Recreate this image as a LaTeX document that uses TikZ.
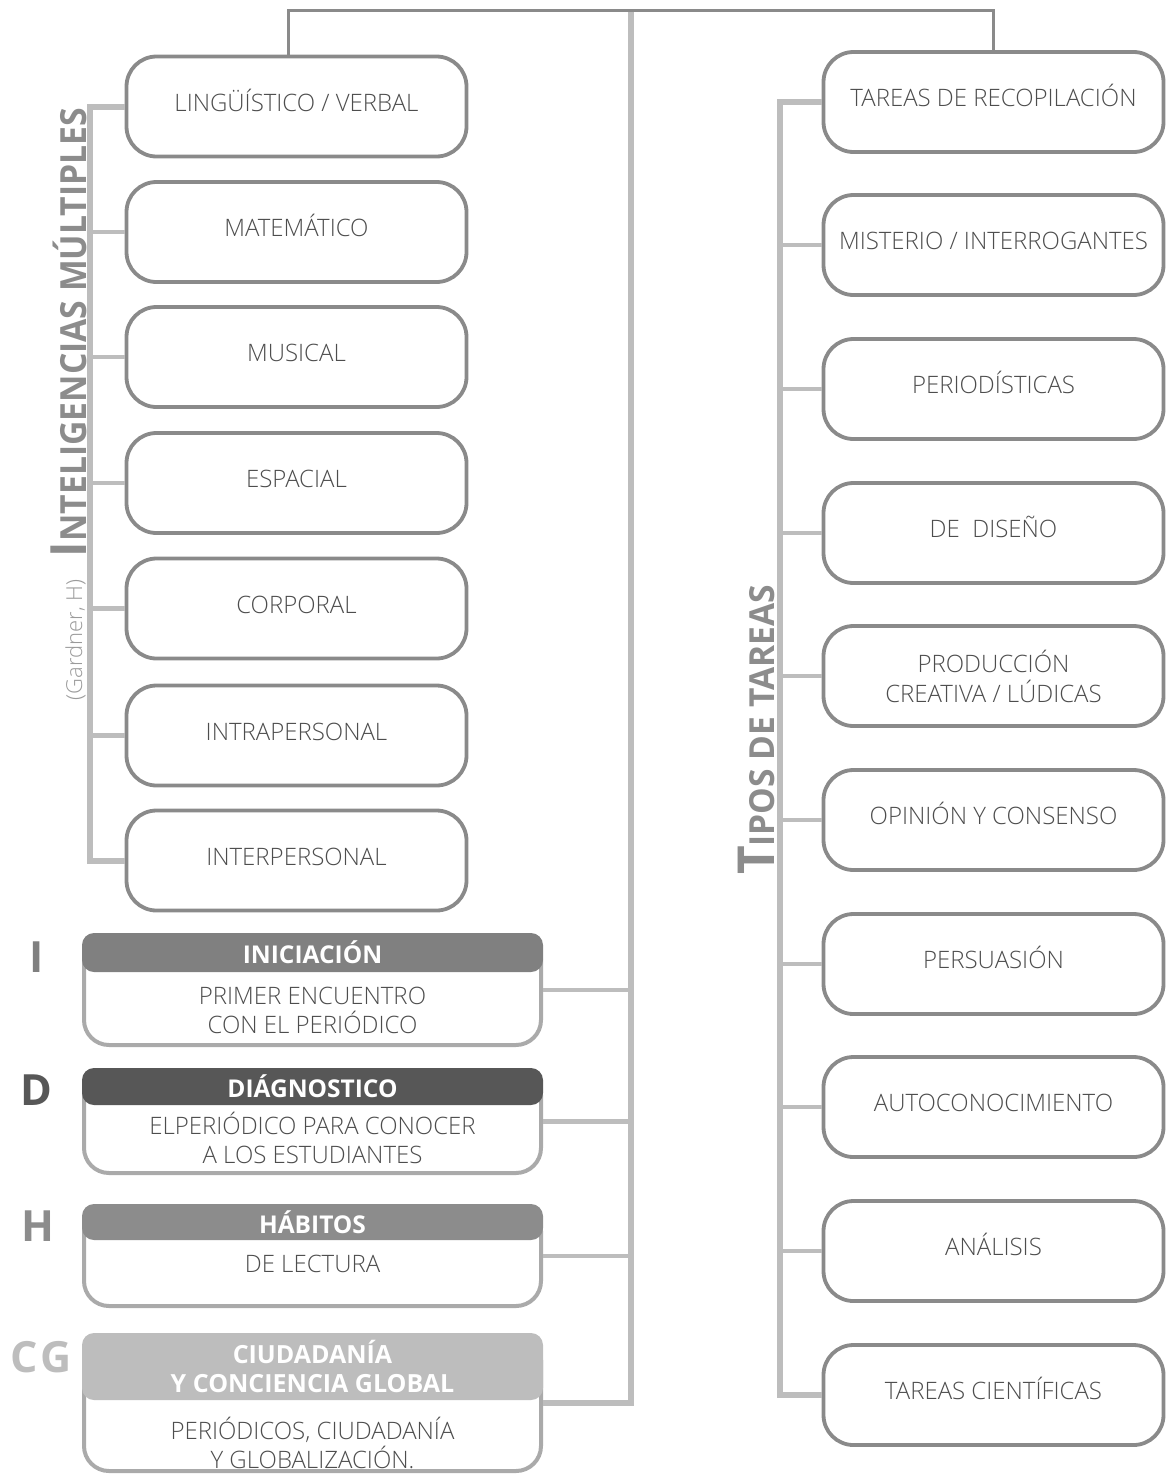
\documentclass[tikz,border=0pt]{standalone}
\usepackage{fontspec}
\setmainfont{Open Sans}
\IfFontExistsTF{Open Sans Light}{\newfontfamily\lightfont{Open Sans Light}}{\newfontfamily\lightfont{Open Sans}}
\usepackage{graphicx}
\definecolor{boxgray}{HTML}{8A8A8A}
\definecolor{busgray}{HTML}{BDBDBD}
\definecolor{txtgray}{HTML}{4D4D4D}
\definecolor{titlegray}{HTML}{8C8C8C}
\definecolor{gardgray}{HTML}{9A9A9A}
\definecolor{cI}{HTML}{808080}
\definecolor{cD}{HTML}{575757}
\definecolor{cH}{HTML}{8C8C8C}
\definecolor{cCG}{HTML}{BDBDBD}
\begin{document}
\begin{tikzpicture}[x=1pt,y=-1pt,
  ibox/.style={draw=boxgray, line width=3.8pt, rounded corners=30pt, fill=white,
    minimum width=340pt, minimum height=100pt, inner sep=0pt, align=center,
    text=txtgray, font=\lightfont\fontsize{24}{30}\selectfont},
  onebox/.style={ibox, text height=17pt, text depth=8pt},
  topline/.style={draw=boxgray, line width=3pt},
  bus/.style={draw=busgray, line width=6pt},
  stub/.style={draw=busgray, line width=4.5pt},
  obox/.style={draw=busgray!90!black, line width=4pt, rounded corners=25pt, fill=white,
    minimum width=457pt, inner sep=0pt},
  hdr/.style={rounded corners=12pt, minimum width=461pt, inner sep=0pt, align=center,
    text=white, font=\bfseries\fontsize{24.5}{29}\selectfont},
  btxt/.style={align=center, inner sep=0pt, text=txtgray, font=\lightfont\fontsize{24}{29}\selectfont},
  bigl/.style={font=\bfseries\fontsize{43}{43}\selectfont, inner sep=0pt},
  vtitle/.style={rotate=90, anchor=base, inner sep=0pt, text=titlegray, font=\bfseries},
]
\useasboundingbox (0,0) rectangle (1170,1475);

% ---- left column: inteligencias
\node[onebox] (l1) at (296.5,106.5) {LINGÜÍSTICO / VERBAL};
\node[onebox] (l2) at (296.5,232) {MATEMÁTICO};
\node[onebox] (l3) at (296.5,357) {MUSICAL};
\node[onebox] (l4) at (296.5,483) {ESPACIAL};
\node[onebox] (l5) at (296.5,608.5) {CORPORAL};
\node[onebox] (l6) at (296.5,735.5) {INTRAPERSONAL};
\node[onebox] (l7) at (296.5,860.5) {INTERPERSONAL};

% ---- right column: tipos de tareas
\node[onebox] (r1) at (993.5,102) {TAREAS DE RECOPILACIÓN};
\node[onebox] (r2) at (993.5,245) {MISTERIO / INTERROGANTES};
\node[onebox] (r3) at (993.5,389) {PERIODÍSTICAS};
\node[onebox] (r4) at (993.5,533) {DE\ \ DISEÑO};
\node[ibox] (r5) at (993.5,676) {PRODUCCIÓN\\CREATIVA / LÚDICAS};
\node[onebox] (r6) at (993.5,820) {OPINIÓN Y CONSENSO};
\node[onebox] (r7) at (993.5,964) {PERSUASIÓN};
\node[onebox] (r8) at (993.5,1107) {AUTOCONOCIMIENTO};
\node[onebox] (r9) at (993.5,1251) {ANÁLISIS};
\node[onebox] (r10) at (993.5,1395) {TAREAS CIENTÍFICAS};

% ---- titles
\node[vtitle] (t1) at (86,332.5)
  {\scalebox{0.936}[1]{\fontsize{50}{50}\selectfont I\fontsize{36}{36}\selectfont NTELIGENCIAS MÚLTIPLES}};
\node[rotate=90, anchor=base, inner sep=0pt, text=gardgray, font=\lightfont\fontsize{22}{22}\selectfont] (t2) at (82,640)
  {(Gardner, H)};
\node[vtitle] (t3) at (774,730)
  {\scalebox{0.972}[1]{\fontsize{51}{51}\selectfont T\fontsize{34.5}{34.5}\selectfont IPOS DE TAREAS}};

% ---- bottom-left phase boxes
\node[obox, minimum height=110pt] (bI) at (312.5,990) {};
\node[hdr, fill=cI, minimum height=39pt] (hI) at (312.5,952.5) {INICIACIÓN};
\node[btxt] (tI) at (312.5,1010.5) {PRIMER ENCUENTRO\\CON EL PERIÓDICO};
\node[bigl, text=cI] (kI) at (37,957) {I};

\node[obox, minimum height=103pt] (bD) at (312.5,1121.5) {};
\node[hdr, fill=cD, minimum height=37pt] (hD) at (312.5,1086.5) {DIÁGNOSTICO};
\node[btxt] (tD) at (312.5,1137.5) {ELPERIÓDICO PARA CONOCER\\A LOS ESTUDIANTES};
\node[bigl, text=cD] (kD) at (36,1090) {D};

\node[obox, minimum height=100pt] (bH) at (312.5,1256) {};
\node[hdr, fill=cH, minimum height=36pt] (hH) at (312.5,1222) {HÁBITOS};
\node[btxt] (tH) at (312.5,1264) {DE LECTURA};
\node[bigl, text=cH] (kH) at (38,1226) {H};

\node[obox, minimum height=136pt] (bCG) at (312.5,1403) {};
\node[hdr, fill=cCG, minimum height=67pt, font=\bfseries\fontsize{25}{29}\selectfont] (hCG) at (312.5,1366.5) {CIUDADANÍA\\Y CONCIENCIA GLOBAL};
\node[btxt] (tCG) at (312.5,1442.5) {PERIÓDICOS, CIUDADANÍA\\Y GLOBALIZACIÓN.};
\node[bigl, text=cCG] (kCG) at (41,1357) {C\hspace{3pt}G};

% ---- connectors
\coordinate (lbus) at (90,0);
\coordinate (rbus) at (780,0);
\coordinate (ctop) at (631,12);
\coordinate (topc) at (631,10);

\draw[bus] (l1.west) -- (l1.west -| lbus) -- (l7.west -| lbus) -- (l7.west);
\foreach \i in {2,...,6} \draw[stub] (l\i.west) -- (l\i.west -| lbus);

\draw[bus] (r1.west) -- (r1.west -| rbus) -- (r10.west -| rbus) -- (r10.west);
\foreach \i in {2,...,9} \draw[stub] (r\i.west) -- (r\i.west -| rbus);

\draw[bus] (ctop) -- (bCG.east -| ctop) -- (bCG.east);
\foreach \b in {bI,bD,bH} \draw[stub] (\b.east) -- (\b.east -| ctop);

\draw[topline] ([xshift=-8pt]l1.north) |- (topc) -| (r1.north);
\end{tikzpicture}
\end{document}
